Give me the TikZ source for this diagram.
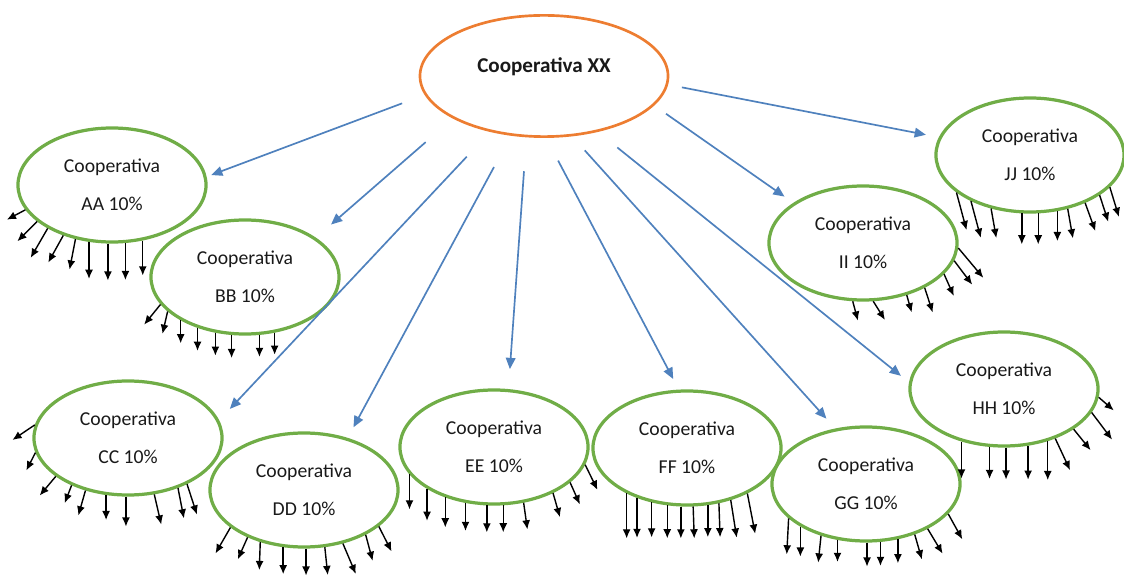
\documentclass[tikz,border=0pt]{standalone}
\usepackage{fontspec}
\setmainfont{Carlito}
\usetikzlibrary{shapes.geometric,arrows.meta}

\definecolor{coopgreen}{HTML}{70AD47}
\definecolor{huborange}{HTML}{ED7D31}
\definecolor{linkblue}{HTML}{4F81BD}

\begin{document}
\begin{tikzpicture}[
      x=0.025cm, y=0.025cm,
      hub/.style={draw=huborange, line width=1.9pt, ellipse, minimum width=6.2cm,
        minimum height=3.03cm, text depth=15pt, text=black!90,
        font=\fontsize{15pt}{18pt}\selectfont\bfseries},
      coop/.style={draw=coopgreen, line width=2.3pt, ellipse, align=center,
        minimum width=4.7cm, minimum height=2.85cm, text=black!90,
        font=\fontsize{14pt}{27pt}\selectfont},
      arrow/.style={-{Triangle[length=2.8mm,width=2.4mm]}, draw=linkblue, line width=1.2pt},
      drop/.style={-{Latex[length=2.3mm,width=2mm]}, line width=1pt}
    ]
    \useasboundingbox (0,0) rectangle (1124,-576);
    \node[hub] (xx) at (544,-76) {Cooperativa XX};
    \node[coop] (aa) at (112,-185) {Cooperativa\\AA 10\%};
    \node[coop] (bb) at (245,-277) {Cooperativa\\BB 10\%};
    \node[coop] (cc) at (128,-438) {Cooperativa\\CC 10\%};
    \node[coop] (dd) at (304,-490) {Cooperativa\\DD 10\%};
    \node[coop] (ee) at (494,-447) {Cooperativa\\EE 10\%};
    \node[coop] (ff) at (687,-448) {Cooperativa\\FF 10\%};
    \node[coop] (gg) at (866,-484) {Cooperativa\\GG 10\%};
    \node[coop] (hh) at (1004,-389) {Cooperativa\\HH 10\%};
    \node[coop] (ii) at (863,-243) {Cooperativa\\II 10\%};
    \node[coop] (jj) at (1030,-155) {Cooperativa\\JJ 10\%};
    % links from the central cooperative
    \draw[arrow, shorten <=0.6cm, shorten >=0.12cm] (xx.189) -- (aa.5);
    \draw[arrow, shorten <=0.9cm, shorten >=0.5cm] (xx.205) -- (bb.29);
    \draw[arrow, shorten <=0.85cm, shorten >=0.39cm] (xx.226) -- (cc.11);
    \draw[arrow, shorten <=0.89cm, shorten >=0.3cm] (xx.241) -- (dd.50);
    \draw[arrow, shorten <=0.85cm, shorten >=0.5cm] (xx.254) -- (ee.76);
    \draw[arrow, shorten <=0.64cm, shorten >=0.3cm] (xx.272) -- (ff.98);
    \draw[arrow, shorten <=0.47cm, shorten >=0.33cm] (xx.295) -- (gg.119);
    \draw[arrow, shorten <=0.62cm, shorten >=0.26cm] (xx.314) -- (hh.176);
    \draw[arrow, shorten <=0.36cm, shorten >=0.27cm] (xx.345) -- (ii.150);
    \draw[arrow, shorten <=0.35cm, shorten >=0.33cm] (xx.356) -- (jj.169);
    % outflows: anchor angle / direction / length
    \foreach \a/\d/\l in {196/208/21, 206/225/28, 214/240/34, 226/241/31, 236/259/31,
        248/270/37, 266/270/37, 283/270/37, 299/270/35}
      \draw[drop] (aa.\a) -- ++(\d:\l);
    \foreach \a/\d/\l in {198/231/26, 204/257/23, 214/270/23, 227/270/23, 242/270/23,
        257/270/23, 284/270/22, 298/270/22}
      \draw[drop] (bb.\a) -- ++(\d:\l);
    \foreach \a/\d/\l in {172/214/27, 189/243/20, 208/230/25, 220/249/19, 231/254/26,
        249/270/25, 268/270/30, 295/283/31, 315/281/31, 322/288/32}
      \draw[drop] (cc.\a) -- ++(\d:\l);
    \foreach \a/\d/\l in {207/240/30, 220/246/24, 230/268/28, 250/270/27, 272/270/27,
        290/276/28, 306/293/33, 324/285/27, 334/297/28}
      \draw[drop] (dd.\a) -- ++(\d:\l);
    \foreach \a/\d/\l in {198/270/35, 212/270/32, 226/270/30, 243/270/28, 263/270/27,
        279/270/27, 298/278/27, 322/286/25, 335/294/24, 349/296/28}
      \draw[drop] (ee.\a) -- ++(\d:\l);
    \foreach \a/\d/\l in {217/270/45, 225/270/40, 237/270/35, 251/270/33, 264/270/32,
        276/272/32, 290/270/32, 300/272/34, 310/279/38, 323/281/41}
      \draw[drop] (ff.\a) -- ++(\d:\l);
    \foreach \a/\d/\l in {204/267/36, 213/270/30, 229/264/27, 243/270/22, 271/270/24,
        284/270/24, 300/270/24, 314/286/26, 324/301/29, 340/299/29}
      \draw[drop] (gg.\a) -- ++(\d:\l);
    \foreach \a/\d/\l in {231/270/37, 256/270/32, 272/270/32, 293/270/34, 310/270/39,
        316/295/35, 330/309/27, 345/307/34, 355/319/20}
      \draw[drop] (hh.\a) -- ++(\d:\l);
    \foreach \a/\d/\l in {260/285/20, 280/302/22, 310/286/18, 324/288/26, 339/294/24,
        349/307/30, 357/310/39}
      \draw[drop] (ii.\a) -- ++(\d:\l);
    \foreach \a/\d/\l in {207/285/39, 218/285/38, 234/280/30, 262/270/31, 278/270/31,
        296/270/30, 305/280/30, 319/290/30, 330/288/28, 338/287/31}
      \draw[drop] (jj.\a) -- ++(\d:\l);
  \end{tikzpicture}
\end{document}
